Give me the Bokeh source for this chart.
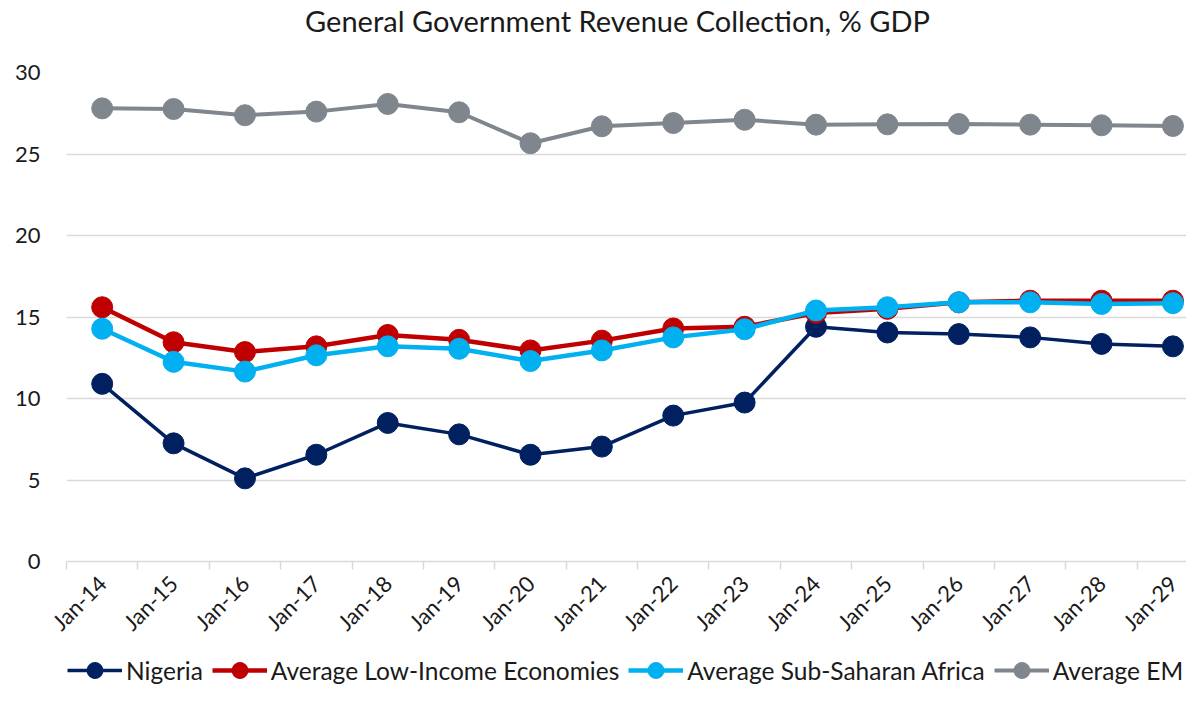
from math import pi
from bokeh.plotting import figure
from bokeh.layouts import column
from bokeh.models import FixedTicker, Range1d, Legend, LegendItem, Label
from bokeh.embed import file_html
from bokeh.resources import INLINE

years = ["Jan-14", "Jan-15", "Jan-16", "Jan-17", "Jan-18", "Jan-19", "Jan-20", "Jan-21",
         "Jan-22", "Jan-23", "Jan-24", "Jan-25", "Jan-26", "Jan-27", "Jan-28", "Jan-29"]
nigeria = [10.9, 7.25, 5.1, 6.55, 8.5, 7.8, 6.55, 7.05, 8.95, 9.75, 14.4, 14.05, 13.95, 13.75, 13.35, 13.2]
low_income = [15.6, 13.45, 12.85, 13.2, 13.9, 13.6, 12.95, 13.55, 14.3, 14.4, 15.25, 15.5, 15.9, 16.0, 16.0, 16.0]
ssa = [14.28, 12.25, 11.65, 12.65, 13.2, 13.05, 12.3, 12.95, 13.75, 14.25, 15.4, 15.6, 15.9, 15.9, 15.8, 15.85]
em = [27.8, 27.76, 27.38, 27.6, 28.07, 27.56, 25.66, 26.7, 26.9, 27.1, 26.8, 26.82, 26.84, 26.8, 26.76, 26.72]
y_ticks = [0, 5, 10, 15, 20, 25, 30]
title_text = "General Government Revenue Collection, % GDP"

series = [
    ("Nigeria", nigeria, "#002060", 3.5),
    ("Average Low-Income Economies", low_income, "#C00000", 4.5),
    ("Average Sub-Saharan Africa", ssa, "#00B0F0", 4.5),
    ("Average EM", em, "#7F868D", 4),
]

FONT = "Lato"
TXT = "#1a1a1a"
GRID = "#d9d9d9"
W = 1186
TITLE_H = 40
MAIN_H = 610
LEG_H = 40
LEFT = 66
FRAME_TOP = 72 - TITLE_H
FRAME_BOTTOM = 561 - TITLE_H

xs = list(range(len(years)))


def strip(h):
    # column layouts align frames with the main chart, so these strips share its left border
    f = figure(width=W, height=h, output_backend="svg", toolbar_location=None,
               x_range=Range1d(0, 1), y_range=Range1d(0, 1),
               x_axis_type=None, y_axis_type=None,
               min_border_left=LEFT, min_border_right=0, min_border_top=0, min_border_bottom=0)
    f.outline_line_color = None
    f.grid.visible = False
    return f


# title strip
tf = strip(TITLE_H)
tf.add_layout(Label(x=617 - LEFT, y=TITLE_H - 20, x_units="screen", y_units="screen",
                    text=title_text, text_align="center", text_baseline="middle",
                    text_font=FONT, text_font_size="29px", text_color=TXT))

# main chart
p = figure(width=W, height=MAIN_H, output_backend="svg", toolbar_location=None,
           x_range=Range1d(-0.5, 15.19), y_range=Range1d(0, 30),
           min_border_left=LEFT, min_border_right=0, min_border_top=FRAME_TOP,
           min_border_bottom=MAIN_H - FRAME_BOTTOM)

p.outline_line_color = None
p.xgrid.visible = False
p.ygrid.grid_line_color = GRID
p.ygrid.grid_line_width = 1.5
p.ygrid.ticker = FixedTicker(ticks=y_ticks)

ya = p.yaxis[0]
ya.ticker = FixedTicker(ticks=y_ticks)
ya.axis_line_color = None
ya.major_tick_line_color = None
ya.minor_tick_line_color = None
ya.major_tick_out = 0
ya.major_tick_in = 0
ya.major_label_standoff = 26
ya.major_label_text_font = FONT
ya.major_label_text_font_size = "22px"
ya.major_label_text_color = TXT

xa = p.xaxis[0]
xa.ticker = FixedTicker(ticks=xs, minor_ticks=[i - 0.5 for i in range(len(years) + 1)])
xa.major_label_overrides = {i: y for i, y in enumerate(years)}
xa.major_tick_out = 0
xa.major_tick_in = 0
xa.major_tick_line_color = None
xa.minor_tick_out = 8
xa.minor_tick_in = 0
xa.minor_tick_line_color = GRID
xa.minor_tick_line_width = 1.5
xa.axis_line_color = GRID
xa.axis_line_width = 1.5
xa.major_label_orientation = pi / 4
xa.major_label_standoff = 10
xa.major_label_text_font = FONT
xa.major_label_text_font_size = "22px"
xa.major_label_text_color = TXT

for name, vals, color, lw in series:
    p.line(xs, vals, line_color=color, line_width=lw)
    p.scatter(xs, vals, size=21, fill_color=color, line_color=color)

# legend strip (series drawn outside its 0..1 view, used only as legend glyph sources)
lg = strip(LEG_H)
items = []
for name, vals, color, lw in series:
    ln = lg.line(xs, vals, line_color=color, line_width=lw)
    sc = lg.scatter(xs, vals, size=21, fill_color=color, line_color=color)
    items.append(LegendItem(label=name, renderers=[ln, sc]))
legend = Legend(items=items, orientation="horizontal", location=(67 - LEFT, 0),
                glyph_width=55, glyph_height=40, label_standoff=4, spacing=9,
                padding=0, margin=0, border_line_color=None, background_fill_alpha=0,
                label_text_font=FONT, label_text_font_size="24.5px", label_text_color=TXT)
lg.add_layout(legend, "center")

layout = column(tf, p, lg, spacing=0)
open("out.html", "w").write(file_html(layout, INLINE))
